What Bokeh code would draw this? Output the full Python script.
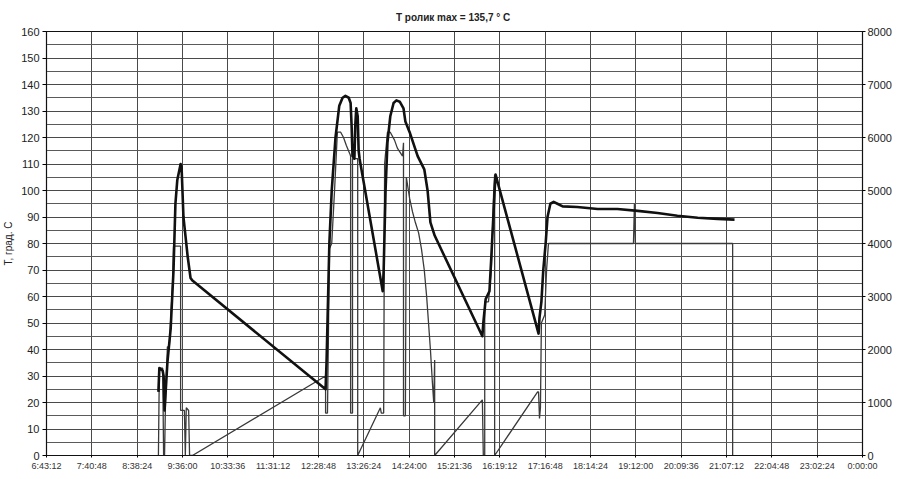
from bokeh.plotting import figure
from bokeh.models import Range1d, LinearAxis, FixedTicker
from bokeh.embed import file_html
from bokeh.resources import INLINE

title_text = "T ролик max =  135,7 ° C"
y_label = "T, град. C"

x_tick_labels = ["6:43:12", "7:40:48", "8:38:24", "9:36:00", "10:33:36", "11:31:12",
                 "12:28:48", "13:26:24", "14:24:00", "15:21:36", "16:19:12", "17:16:48",
                 "18:14:24", "19:12:00", "20:09:36", "21:07:12", "22:04:48", "23:02:24",
                 "0:00:00"]
left_ticks = list(range(0, 161, 10))
left_minor = list(range(0, 161, 5))
right_ticks = list(range(0, 8001, 1000))

# thick series: roller temperature (hours of day, deg C)
roll_hours = [9.09, 9.11, 9.18, 9.20, 9.22, 9.28, 9.35, 9.41, 9.45, 9.49, 9.56, 9.58, 9.62, 9.71, 9.77, 9.81,
              12.63, 12.65, 12.69, 12.71, 12.76, 12.84, 12.92, 12.99, 13.05, 13.12, 13.16, 13.18, 13.20,
              13.24, 13.26, 13.28, 13.31, 13.33, 13.35,
              13.84, 13.86, 13.90, 13.94, 14.00, 14.07, 14.13, 14.20, 14.28, 14.32, 14.41, 14.58, 14.72,
              14.79, 14.85, 14.94,
              15.95, 15.97, 16.02, 16.10, 16.14, 16.21, 16.23,
              17.14, 17.16, 17.20, 17.24, 17.29, 17.33, 17.39, 17.46, 17.54, 17.65, 17.96, 18.39, 18.81,
              19.24, 19.66, 20.08, 20.51, 20.93, 21.29]
roll_temp = [24, 33, 32, 30, 17, 35, 48, 70, 95, 104, 110, 109, 90, 75, 67, 66,
             25, 35, 65, 80, 100, 120, 132, 135, 135.7, 135, 133, 125, 113,
             112, 125, 131, 128, 115, 112,
             62, 70, 100, 118, 128, 133, 134, 133.5, 131, 126, 122, 113, 108,
             100, 88, 83,
             45, 50, 59, 62, 75, 100, 106,
             46, 52, 58, 70, 80, 90, 95, 95.7, 95, 94, 93.8, 93, 93,
             92.3, 91.5, 90.5, 89.7, 89.3, 89]

# thin series (hours of day, left-axis units)
aux_hours = [9.09, 9.11, 9.18, 9.20, 9.22, 9.24, 9.28, 9.32, 9.39, 9.41, 9.56, 9.56, 9.64, 9.66, 9.68, 9.73,
             9.75, 9.81,
             12.63, 12.63, 12.67, 12.69, 12.71, 12.76, 12.82, 12.88, 12.95, 13.01, 13.07, 13.14, 13.16,
             13.16, 13.20, 13.20, 13.31, 13.31, 13.79, 13.81, 13.86, 13.88, 13.94, 14.00, 14.09, 14.15,
             14.26, 14.28, 14.28, 14.32, 14.34, 14.41, 14.47, 14.53, 14.60, 14.66, 14.72, 14.77, 14.81,
             14.85, 14.89, 14.92, 14.94, 14.94,
             15.95, 15.97, 16.00, 16.00, 16.08, 16.14, 16.19, 16.21, 16.21,
             17.12, 17.14, 17.16, 17.18, 17.20, 17.27, 17.31, 17.35, 19.15, 19.17, 19.19, 21.25, 21.25]
aux_vals = [0, 33, 33, 0, 0, 20, 41, 41, 65, 79, 79, 17, 17, 0, 18, 17,
            0, 0,
            30, 16, 16, 45, 78, 80, 100, 122, 122, 120, 117, 114, 113,
            16, 16, 112, 112, 0, 18, 16, 16, 110, 122, 122, 119, 116,
            113, 118, 15, 15, 105, 97, 92, 88, 84, 78, 70, 60, 50,
            40, 28, 20, 36, 0,
            21, 0, 0, 58, 58, 70, 100, 106, 0,
            24, 24, 14, 18, 50, 53, 70, 80, 80, 95, 80, 80, 0]


def to_sec(label):
    h, m, s = (int(v) for v in label.split(":"))
    return h * 3600 + m * 60 + s


tick_pos = []
for lab in x_tick_labels:
    sec = to_sec(lab)
    if tick_pos and sec < tick_pos[-1]:
        sec += 24 * 3600
    tick_pos.append(sec)

FONT = "Liberation Sans"

p = figure(frame_width=816, frame_height=424, output_backend="svg", toolbar_location=None,
           x_range=Range1d(tick_pos[0], tick_pos[-1]), y_range=Range1d(0, 160),
           min_border_left=41, min_border_right=2, min_border_top=24, min_border_bottom=10,
           background_fill_color="white", border_fill_color="white")
p.extra_y_ranges = {"r": Range1d(0, 8000)}

p.title.text = title_text
p.title.align = "center"
p.title.text_font = FONT
p.title.text_font_size = "10px"
p.title.text_font_style = "bold"
p.title.text_color = "#222222"
p.title.standoff = 18

p.outline_line_color = "#111111"
p.outline_line_width = 1.2

# x axis
xa = p.xaxis[0]
xa.ticker = FixedTicker(ticks=tick_pos)
xa.major_label_overrides = {t: l for t, l in zip(tick_pos, x_tick_labels)}
xa.major_label_text_font = FONT
xa.major_label_text_font_size = "9px"
xa.major_label_text_color = "#333333"
xa.major_tick_out = 2
xa.major_tick_in = 0
xa.minor_tick_line_color = None
xa.major_label_standoff = 3
xa.axis_label_standoff = 0
xa.axis_line_color = "#111111"

# left axis
ya = p.yaxis[0]
ya.ticker = FixedTicker(ticks=left_ticks, minor_ticks=left_minor)
ya.major_label_text_font = FONT
ya.major_label_text_font_size = "11px"
ya.major_label_text_color = "#222222"
ya.major_tick_out = 4
ya.major_tick_in = 0
ya.minor_tick_line_color = None
ya.major_label_standoff = 3
ya.axis_label = y_label
ya.axis_label_text_font = FONT
ya.axis_label_text_font_size = "10px"
ya.axis_label_text_font_style = "normal"
ya.axis_label_text_color = "#222222"
ya.axis_label_standoff = 4
ya.axis_line_color = "#111111"

# right axis
ra = LinearAxis(y_range_name="r", ticker=FixedTicker(ticks=right_ticks))
ra.major_label_text_font = FONT
ra.major_label_text_font_size = "11px"
ra.major_label_text_color = "#222222"
ra.major_tick_out = 3
ra.major_tick_in = 0
ra.minor_tick_line_color = None
ra.major_label_standoff = 2
ra.axis_line_color = "#111111"
p.add_layout(ra, "right")

# grids
p.xgrid.grid_line_color = "#4a4a4a"
p.xgrid.grid_line_width = 1
p.ygrid.grid_line_color = "#4a4a4a"
p.ygrid.grid_line_width = 1
p.ygrid.minor_grid_line_color = "#5a5a5a"
p.ygrid.minor_grid_line_width = 1

aux_x = [h * 3600 for h in aux_hours]
roll_x = [h * 3600 for h in roll_hours]

p.line(aux_x, aux_vals, line_color="#3a3a3a", line_width=1.3)
p.line(roll_x, roll_temp, line_color="#111111", line_width=2.6, line_join="round")

open("out.html", "w").write(file_html(p, INLINE))
